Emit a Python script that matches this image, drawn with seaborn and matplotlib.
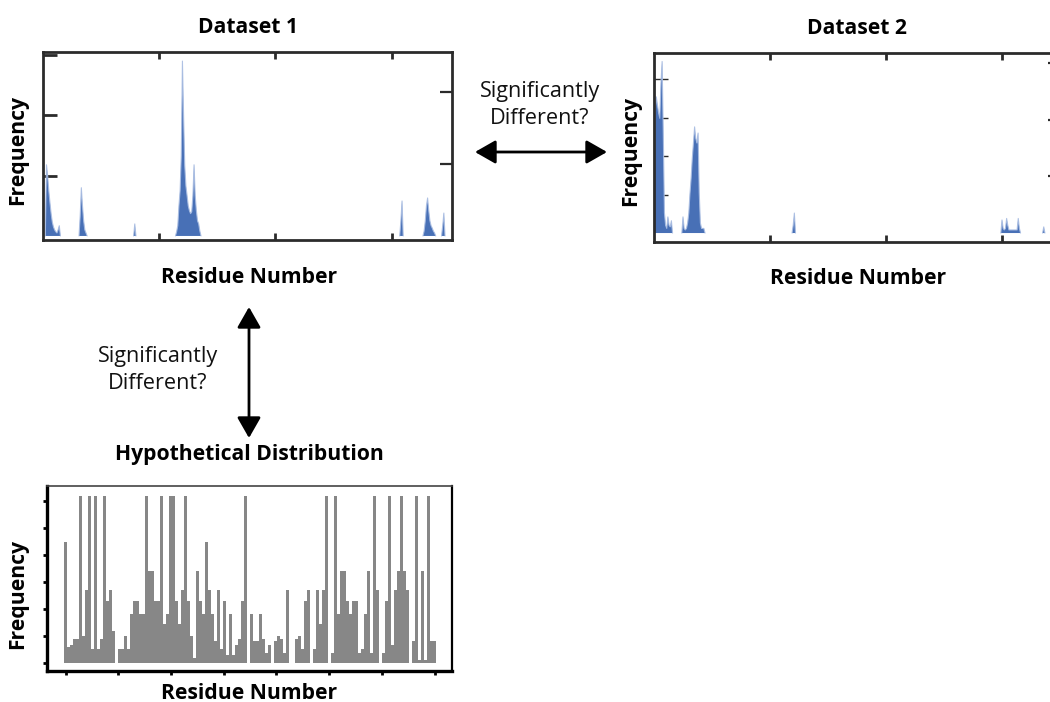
import numpy as np
import pandas as pd
import matplotlib
matplotlib.use("Agg")
import matplotlib.pyplot as plt
from matplotlib.patches import FancyArrowPatch
import seaborn as sns

nan = np.nan

# ---------------- data ----------------
# Dataset 1: residue numbers and frequencies (NaN separates clusters)
d1_residue = [2, 3, 4, 5, 6, 7, 8, 9, 10, 11, 12, 13, 14, 15, nan,
              31, 32, 33, 34, 35, 36, 37, 38, nan,
              78, 79, 80, nan,
              114, 115, 116, 117, 118, 119, 120, 121, 122, 123, 124, 125, 126,
              127, 128, 129, 130, 131, 132, 133, 134, 135, 136, nan,
              307, 308, 309, 310, nan,
              327, 328, 329, 330, 331, 332, 333, 334, 335, 336, 337, 338, nan,
              343, 344, 345, 346]
d1_freq = [0, 11.8, 10.0, 7.5, 5.5, 3.7, 2.3, 1.5, 1.0, 0.7, 0.5, 1.0, 1.7, 0, nan,
           0, 3.3, 8.0, 5.0, 2.5, 1.0, 0.5, 0, nan,
           0, 2.0, 0, nan,
           0, 0.7, 1.7, 5.0, 7.5, 13.3, 29.0, 20.0, 11.7, 8.3, 6.7, 5.0, 4.2,
           3.7, 4.0, 6.7, 11.8, 6.7, 4.2, 2.5, 2.0, 0.8, 0, nan,
           0, 2.5, 5.8, 0, nan,
           0, 0.8, 2.5, 5.0, 6.3, 4.2, 2.5, 1.7, 1.3, 0.8, 0.5, 0, nan,
           0, 1.7, 3.8, 0]

# Dataset 2
d2_residue = [0, 1, 2, 3, 4, 5, 6, 7, 8, 9, 10, 11, 12, 13, 14, 15, 16, nan,
              24, 25, 26, 27, 28, 29, 30, 31, 32, 33, 34, 35, 36, 37, 38, 39,
              40, 41, 42, 43, 44, nan,
              119, 120, 121, 122, nan,
              299, 300, 301, 302, 303, 304, 305, 306, 307, 308, 309, 310, 311,
              312, 313, 314, 315, 316, nan,
              335, 336, 337]
d2_freq = [0, 15.6, 17.7, 16.6, 15.6, 14.9, 19.5, 22.3, 13.0, 2.6, 1.0, 0.6, 2.1, 1.0, 0.8, 1.6, 0, nan,
           0, 2.1, 0.6, 0.4, 0.6, 1.3, 2.6, 5.1, 7.1, 9.7, 11.7, 13.8, 12.3, 11.7, 13.0, 5.2,
           1.3, 0.6, 0.6, 0.6, 0, nan,
           0, 1.0, 2.6, 0, nan,
           0, 1.7, 0.6, 0.4, 0.6, 1.9, 1.0, 0.4, 0.4, 0.4, 0.4, 0.4, 0.4,
           0.4, 0.4, 1.9, 0.6, 0, nan,
           0, 0.8, 0]

# Hypothetical distribution (one value per residue bin)
hypo_freq = [4.5, 0.6, 0.65, 0.9, 0.9, 6.2, 1.0, 2.7, 6.2, 0.5, 6.2, 0.5, 0.9, 6.2, 2.3, 2.7,
             1.2, 0, 0.5, 0.5, 1.0, 0.5, 1.8, 2.3,
             2.3, 1.8, 1.8, 6.2, 3.4, 3.4, 2.3, 2.3, 6.2, 1.45, 1.8, 6.2, 6.2, 2.3, 1.45, 2.7,
             6.2, 2.3, 1.0, 0.2, 3.4, 2.3, 1.8, 4.5, 2.7, 1.8,
             0.8, 2.7, 0.5, 2.3, 0.3, 1.8, 0.3, 0.65, 0.9, 2.3, 6.2, 0, 1.8, 0.8, 0.8, 1.8,
             0.9, 0.35, 0.65, 0, 0.8, 1.0, 0.9, 0.35, 2.7,
             0, 0, 0.9, 1.0, 0.5, 2.3, 2.7, 0, 0.5, 2.7, 1.45, 2.7, 6.2, 0, 0.35, 6.2,
             1.8, 3.4, 3.4, 2.3, 1.8, 2.3, 2.3, 0.35, 0.5, 1.8,
             3.4, 0.35, 6.2, 2.7, 0, 0.35, 2.3, 6.2, 0.65, 2.7, 3.4, 6.2, 3.4, 2.7, 0,
             0.8, 6.2, 0.1, 3.4, 0.1, 6.2, 0.8, 0.8]
hypo_bin = list(range(len(hypo_freq)))

titles = ["Dataset 1", "Dataset 2", "Hypothetical Distribution"]
x_label = "Residue Number"
y_label = "Frequency"
question = "Significantly\nDifferent?"

# ---------------- style ----------------
sns.set_theme(style="white")
plt.rcParams["font.family"] = ["Open Sans", "DejaVu Sans"]
plt.rcParams["text.color"] = "black"
plt.rcParams["axes.labelcolor"] = "black"

W, H = 1050, 702
fig = plt.figure(figsize=(W / 100, H / 100), dpi=100)


def rect(l, t, r, b):
    return [l / W, 1 - b / H, (r - l) / W, (b - t) / H]


BLUE = "#4870b6"
LIGHT = "#a9bde2"
SPINE = "#2b2b2b"
GRAY = "#878787"
FS = 15.2
FS_Q = 15.6


def frame(ax, lw=2.0):
    for s in ax.spines.values():
        s.set_visible(True)
        s.set_color(SPINE)
        s.set_linewidth(lw)


def blue_panel(ax, res, freq, xmax, ylim, lticks, lwidth, rlim, rticks, title, tx):
    ax.fill_between(res, freq, 0, color=BLUE, linewidth=0)
    ax.plot(res, freq, color=LIGHT, lw=0.8, alpha=0.9)
    ax.set_xlim(0, xmax)
    ax.set_ylim(*ylim)
    ax.set_xticks([100, 200, 300])
    ax.set_yticks(lticks)
    ax.tick_params(axis="x", direction="in", top=True, bottom=True, length=5,
                   width=2, color=SPINE, labelbottom=False, labeltop=False)
    ax.tick_params(axis="y", direction="in", left=True, right=False, length=10,
                   width=lwidth, color=SPINE, labelleft=False)
    frame(ax)
    axr = ax.twinx()
    axr.set_ylim(*rlim)
    axr.set_yticks(rticks)
    axr.tick_params(axis="y", direction="in", right=True, length=8.8, width=1.6,
                    color=SPINE, labelright=False)
    for s in axr.spines.values():
        s.set_visible(False)
    axr.grid(False)
    ax.grid(False)
    ax.set_xlabel(x_label, fontsize=FS, fontweight="bold", va="center", ha="center")
    ax.xaxis.set_label_coords(tx, -0.197)
    ax.set_ylabel(y_label, fontsize=FS, fontweight="bold", va="center", ha="center")
    ax.yaxis.set_label_coords(-0.061, 0.48)
    ax.set_title(title, fontsize=FS, fontweight="bold", y=1.13, va="center", pad=0)


ax1 = fig.add_axes(rect(43, 52, 452, 240))
blue_panel(ax1, d1_residue, d1_freq, 352, (-0.67, 30.5), [10, 20, 30], 2.0,
           (-0.056, 2.56), [1, 2], titles[0], 0.504)

ax2 = fig.add_axes(rect(654, 53, 1060, 241.5))
blue_panel(ax2, d2_residue, d2_freq, 350, (-1.1, 23.4), [5, 10, 15, 20], 1.0,
           (-1.1 * 7.7 / 56.7, 23.4 * 7.7 / 56.7), [1, 2, 3], titles[1], 0.503)
ax2.yaxis.set_label_coords(-0.058, 0.48)

# Hypothetical distribution
ax3 = fig.add_axes(rect(47, 486, 452, 671))
sns.barplot(x=hypo_bin, y=hypo_freq, native_scale=True, color=GRAY, saturation=1,
            width=0.85, errorbar=None, ax=ax3, linewidth=0)
ax3.set_xlim(-6.2, 128.8)
ax3.set_ylim(-0.3, 6.56)
ax3.set_yticks(range(0, 7))
ax3.set_xticks(np.linspace(0, 123, 8))
ax3.tick_params(axis="both", direction="out", length=3, width=2, color="black",
                labelleft=False, labelbottom=False, left=True, bottom=True)
ax3.grid(False)
for side, lw, col in [("left", 2.4, "black"), ("bottom", 2.4, "black"),
                      ("top", 1.2, "#444444"), ("right", 1.6, "black")]:
    ax3.spines[side].set_visible(True)
    ax3.spines[side].set_linewidth(lw)
    ax3.spines[side].set_color(col)
ax3.set_xlabel(x_label, fontsize=FS, fontweight="bold", va="center", ha="center")
ax3.xaxis.set_label_coords(0.499, -0.119)
ax3.set_ylabel(y_label, fontsize=FS, fontweight="bold", va="center", ha="center")
ax3.yaxis.set_label_coords(-0.072, 0.416)
ax3.set_title(titles[2], fontsize=FS, fontweight="bold", y=1.168, va="center", pad=0)

# Arrows and annotations
def fp(x, y):
    return (x / W, 1 - y / H)

for a, b in [((475, 152), (607, 152)), ((249, 307), (249, 438))]:
    arr = FancyArrowPatch(fp(*a), fp(*b), transform=fig.transFigure,
                          arrowstyle="<|-|>,head_length=0.7,head_width=0.4",
                          mutation_scale=18, lw=2, color="black",
                          shrinkA=0, shrinkB=0)
    fig.patches.append(arr)

fig.text(540 / W, 1 - 105 / H, question, ha="center", va="center",
         fontsize=FS_Q, linespacing=1.32, color="#111111")
fig.text(158 / W, 1 - 370 / H, question, ha="center", va="center",
         fontsize=FS_Q, linespacing=1.32, color="#111111")

fig.savefig("out.png", dpi=100)
